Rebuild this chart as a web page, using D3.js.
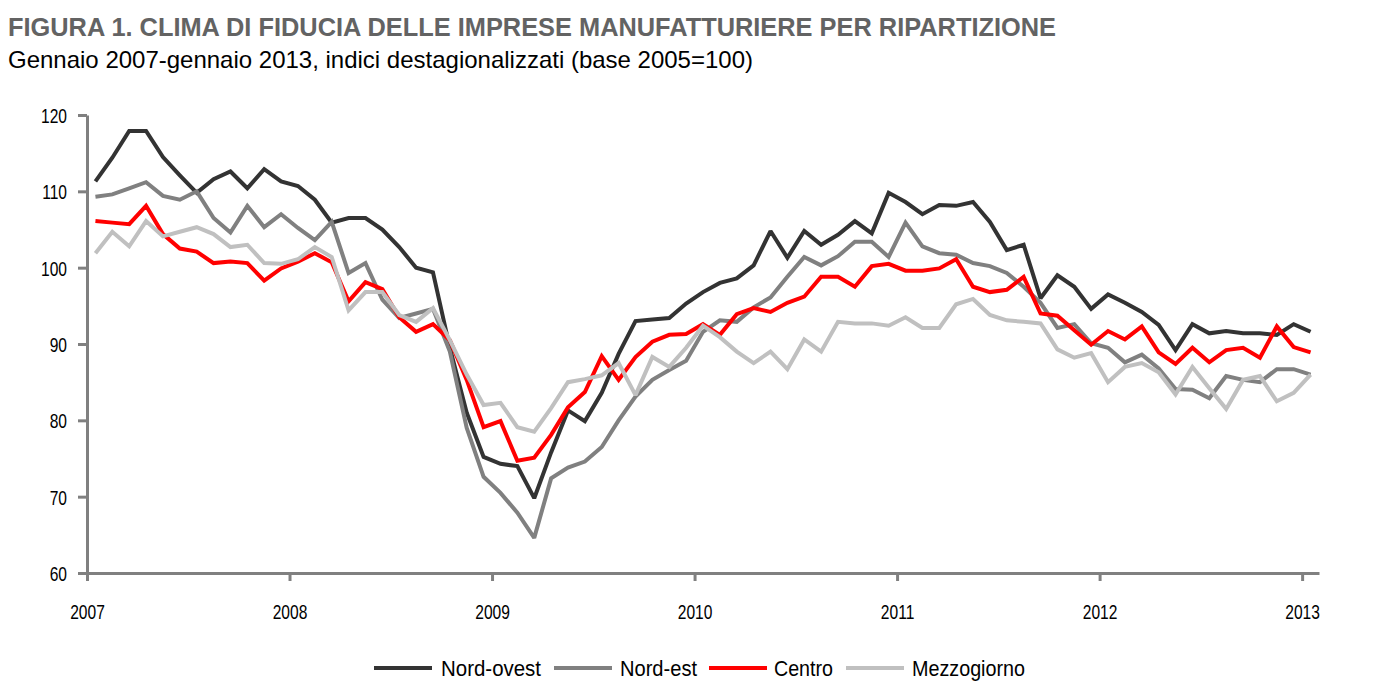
<!DOCTYPE html>
<html>
<head>
<meta charset="utf-8">
<script src="https://cdn.jsdelivr.net/npm/d3@7/dist/d3.min.js"></script>
<style>
  body { margin: 0; background: #fff; }
  svg { display: block; }
  .narrow { font-family: "Liberation Sans", Arial, sans-serif; }
</style>
</head>
<body>
<svg id="chart" width="1373" height="698"></svg>
<script>
const title = "FIGURA 1. CLIMA DI FIDUCIA DELLE IMPRESE MANUFATTURIERE PER RIPARTIZIONE";
const subtitle = "Gennaio 2007-gennaio 2013, indici destagionalizzati (base 2005=100)";
const yearLabels = ["2007", "2008", "2009", "2010", "2011", "2012", "2013"];
const yTicks = [60, 70, 80, 90, 100, 110, 120];
const seriesNames = ["Nord-ovest", "Nord-est", "Centro", "Mezzogiorno"];

// monthly values, January 2007 - January 2013 (73 months)
const nordOvest = [111.3,114.4,117.9,117.9,114.5,112.1,109.8,111.6,112.6,110.4,112.9,111.3,
  110.7,108.9,105.9,106.5,106.5,105.0,102.7,100.0,99.4,89.5,81.0,75.2,
  74.3,74.0,69.8,75.8,81.3,79.9,83.6,88.7,93.0,93.2,93.4,95.3,
  96.8,98.0,98.6,100.3,104.8,101.3,104.8,103.0,104.3,106.1,104.5,109.8,
  108.6,107.0,108.2,108.1,108.6,106.0,102.3,103.0,96.0,99.0,97.5,94.6,
  96.5,95.4,94.2,92.5,89.2,92.6,91.4,91.7,91.4,91.4,91.2,92.6,91.6];
const nordEst = [109.3,109.6,110.4,111.2,109.4,108.9,110.0,106.5,104.6,108.1,105.3,107.0,
  105.2,103.6,106.0,99.3,100.6,95.8,93.4,94.0,94.6,89.0,79.0,72.6,
  70.5,67.9,64.6,72.4,73.8,74.6,76.5,80.0,83.1,85.3,86.6,87.8,
  91.6,93.1,92.9,94.8,96.1,98.8,101.4,100.3,101.5,103.4,103.4,101.4,
  105.9,102.8,101.9,101.7,100.6,100.2,99.3,97.5,95.4,92.1,92.6,90.1,
  89.5,87.6,88.6,86.8,84.1,84.0,82.9,85.8,85.3,85.0,86.7,86.7,86.0];
const centro = [106.1,105.9,105.7,108.1,104.4,102.5,102.1,100.6,100.8,100.6,98.3,99.9,
  100.8,101.9,100.7,95.6,98.1,97.2,93.5,91.6,92.6,90.5,85.3,79.1,
  79.9,74.7,75.1,78.1,81.7,83.7,88.4,85.3,88.3,90.3,91.2,91.3,
  92.6,91.2,93.9,94.7,94.2,95.4,96.2,98.8,98.8,97.5,100.2,100.5,
  99.6,99.6,99.9,101.1,97.5,96.8,97.1,98.8,94.0,93.7,91.8,89.9,
  91.7,90.6,92.3,88.9,87.4,89.5,87.6,89.2,89.5,88.2,92.3,89.6,88.9];
const mezzogiorno = [101.9,104.7,102.8,106.1,104.1,104.7,105.3,104.4,102.7,103.0,100.6,100.5,
  101.1,102.7,101.4,94.4,96.8,96.8,93.8,92.9,94.7,90.5,86.0,82.0,
  82.3,79.1,78.5,81.6,85.0,85.4,85.9,87.5,83.3,88.3,87.0,89.5,
  92.4,90.9,89.0,87.5,89.0,86.7,90.6,89.0,92.9,92.7,92.7,92.4,
  93.5,92.1,92.1,95.2,95.9,93.8,93.1,92.9,92.7,89.3,88.2,88.8,
  85.0,87.0,87.5,86.3,83.4,87.0,84.2,81.5,85.3,85.8,82.5,83.6,86.0];

const seriesValues = [nordOvest, nordEst, centro, mezzogiorno];
const colors = ["#333333", "#808080", "#ff0000", "#c0c0c0"];

const svg = d3.select("#chart");
const nMonths = nordOvest.length;

const x = d3.scaleLinear().domain([0, nMonths]).range([87, 1319]);
const y = d3.scaleLinear().domain([60, 120]).range([573, 115]);

// title + subtitle
svg.append("text").attr("x", 8).attr("y", 36)
  .attr("font-family", "Liberation Sans, Arial, sans-serif")
  .attr("font-weight", "bold").attr("font-size", 26).attr("fill", "#636363")
  .attr("textLength", 1048).attr("lengthAdjust", "spacingAndGlyphs")
  .text(title);
svg.append("text").attr("x", 8).attr("y", 68)
  .attr("font-family", "Liberation Sans, Arial, sans-serif")
  .attr("font-size", 24).attr("fill", "#000")
  .attr("textLength", 745).attr("lengthAdjust", "spacingAndGlyphs")
  .text(subtitle);

const gAxes = svg.append("g");
const gLines = svg.append("g");

const line = d3.line().x((d, i) => x(i + 0.5)).y(d => y(d));
seriesValues.forEach((vals, k) => {
  gLines.append("path").datum(vals)
    .attr("d", line).attr("fill", "none")
    .attr("stroke", colors[k]).attr("stroke-width", 4)
    .attr("stroke-linejoin", "miter").attr("stroke-miterlimit", 2);
});

// y axis
const yAxis = gAxes.append("g").attr("transform", `translate(${x(0)},0)`)
  .call(d3.axisLeft(y).tickValues(yTicks).tickSize(9).tickSizeOuter(0).tickPadding(11));
// x axis
const xAxis = gAxes.append("g").attr("transform", `translate(0,${y(60)})`)
  .call(d3.axisBottom(x).tickValues(d3.range(0, nMonths, 12))
    .tickFormat((d) => yearLabels[d / 12]).tickSize(8).tickSizeOuter(0).tickPadding(23));

[yAxis, xAxis].forEach(a => {
  a.select(".domain").attr("stroke", "#808080").attr("stroke-width", 3);
  a.selectAll(".tick line").attr("stroke", "#808080").attr("stroke-width", 3);
  a.selectAll(".tick text").attr("class", "narrow").attr("font-size", 20.5).attr("fill", "#000");
});
yAxis.selectAll(".tick text").attr("dy", "0.36em");

// condense axis labels to mimic a narrow face
svg.selectAll(".tick text").each(function () {
  const len = this.getComputedTextLength();
  d3.select(this).attr("textLength", len * 0.76).attr("lengthAdjust", "spacingAndGlyphs");
});

// legend
const legendItems = [
  { lx: 374, tx: 441, w: 100 }, { lx: 554, tx: 620, w: 77 },
  { lx: 709, tx: 774, w: 59 }, { lx: 846, tx: 912, w: 113 }
];
const ly = 668;
seriesNames.forEach((name, k) => {
  svg.append("line").attr("x1", legendItems[k].lx).attr("x2", legendItems[k].lx + 58)
    .attr("y1", ly).attr("y2", ly).attr("stroke", colors[k]).attr("stroke-width", 4);
  svg.append("text").attr("class", "narrow").attr("x", legendItems[k].tx).attr("y", ly + 8)
    .attr("font-size", 22).attr("fill", "#000")
    .attr("textLength", legendItems[k].w).attr("lengthAdjust", "spacingAndGlyphs")
    .text(name);
});
</script>
</body>
</html>
